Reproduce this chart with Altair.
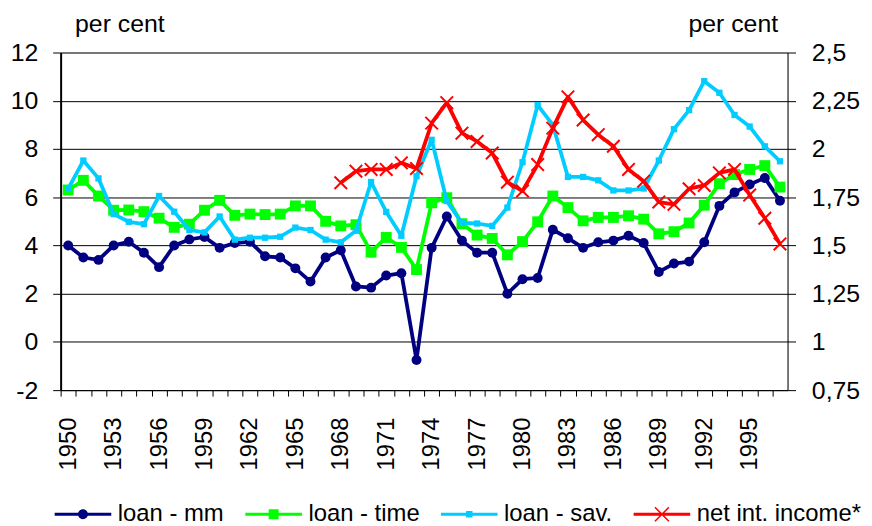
import altair as alt
import pandas as pd

years = list(range(1950, 1998))

loan_mm = [4.0, 3.5, 3.4, 4.0, 4.15, 3.7, 3.1, 4.0, 4.25, 4.35,
           3.9, 4.1, 4.15, 3.55, 3.5, 3.05, 2.5, 3.5, 3.8, 2.3,
           2.25, 2.75, 2.85, -0.75, 3.9, 5.2, 4.2, 3.7, 3.7, 2.0,
           2.6, 2.65, 4.65, 4.3, 3.9, 4.13, 4.2, 4.4, 4.1, 2.9,
           3.25, 3.33, 4.13, 5.64, 6.2, 6.53, 6.8, 5.85]

loan_time = [6.3, 6.7, 6.05, 5.46, 5.47, 5.4, 5.13, 4.75, 4.88, 5.46,
             5.87, 5.25, 5.3, 5.28, 5.3, 5.64, 5.64, 5.0, 4.81, 4.86,
             3.72, 4.33, 3.92, 3.0, 5.77, 5.98, 4.9, 4.43, 4.29, 3.61,
             4.16, 4.98, 6.05, 5.57, 5.02, 5.16, 5.16, 5.23, 5.09, 4.48,
             4.57, 4.93, 5.67, 6.56, 6.94, 7.15, 7.31, 6.42]

loan_sav = [6.35, 7.52, 6.78, 5.3, 4.98, 4.88, 6.05, 5.4, 4.64, 4.54,
            5.2, 4.24, 4.32, 4.32, 4.36, 4.74, 4.64, 4.24, 4.13, 4.61,
            6.63, 5.39, 4.4, 6.87, 8.38, 5.84, 4.93, 4.91, 4.81, 5.57,
            7.45, 9.82, 9.0, 6.84, 6.84, 6.7, 6.28, 6.28, 6.36, 7.52,
            8.82, 9.61, 10.81, 10.33, 9.41, 8.93, 8.11, 7.49]

net_years = list(range(1968, 1998))
net_income = [1.825, 1.885, 1.894, 1.894, 1.928, 1.899, 2.134, 2.24, 2.082, 2.039,
              1.979, 1.828, 1.782, 1.919, 2.108, 2.27, 2.15, 2.074, 2.014, 1.894,
              1.833, 1.725, 1.713, 1.794, 1.811, 1.876, 1.894, 1.761, 1.641, 1.508]

series_names = ["loan - mm", "loan - time", "loan - sav.", "net int. income*"]
series_colors = ["#000080", "#00FF00", "#00CCFF", "#FF0000"]

left_ticks = [-2, 0, 2, 4, 6, 8, 10, 12]
right_ticks = [0.75, 1.0, 1.25, 1.5, 1.75, 2.0, 2.25, 2.5]

FONT = "Liberation Sans"

# legend symbols: line with marker (unit = sqrt(size)/2)
LINE = "M-5.7,-0.3H5.7V0.3H-5.7Z "
legend_paths = [
    LINE + "M-1,0A1,1 0 1,1 1,0A1,1 0 1,1 -1,0Z",
    LINE + "M-1,-1H1V1H-1Z",
    LINE + "M-0.65,-0.65H0.65V0.65H-0.65Z",
    LINE + "M-1.506,-1.294L-1.294,-1.506L1.506,1.294L1.294,1.506Z "
           "M-1.294,1.506L-1.506,1.294L1.294,-1.506L1.506,-1.294Z",
]

df_mm = pd.DataFrame({"year": years, "value": loan_mm})
df_time = pd.DataFrame({"year": years, "value": loan_time})
df_sav = pd.DataFrame({"year": years, "value": loan_sav})
df_net = pd.DataFrame({"year": net_years, "value": net_income})
df_leg = pd.DataFrame({"series": series_names})

tick_vals = [y - 0.5 for y in years]

x_enc = alt.X(
    "year:Q",
    scale=alt.Scale(domain=[1949.5, 1997.5], nice=False, zero=False),
    axis=alt.Axis(
        values=tick_vals,
        labelExpr="(datum.value + 0.5 - 1950) % 3 == 0 ? '' + (datum.value + 0.5) : ''",
        labelOffset=7.625,
        labelAngle=-90,
        labelOverlap=False,
        labelFlush=False,
        labelBound=False,
        labelPadding=21,
        labelFont=FONT,
        labelFontSize=24,
        labelColor="black",
        tickSize=6,
        tickColor="black",
        domainColor="black",
        domainWidth=1,
        grid=False,
        title=None,
    ),
)

y_left = alt.Y(
    "value:Q",
    scale=alt.Scale(domain=[-2, 12], nice=False, zero=False),
    axis=alt.Axis(
        values=left_ticks,
        labelExpr="toString(datum.value)",
        grid=True,
        gridColor="black",
        gridWidth=1,
        gridOpacity=1,
        tickSize=8,
        tickColor="black",
        domainColor="black",
        domainWidth=2,
        labelFont=FONT,
        labelFontSize=25,
        labelColor="black",
        labelPadding=15,
        title="per cent",
        titleFont=FONT,
        titleFontSize=25,
        titleFontWeight="normal",
        titleColor="black",
        titleAngle=0,
        titleAlign="left",
        titleBaseline="alphabetic",
        titleX=14,
        titleY=-21,
    ),
)

y_right = alt.Y(
    "value:Q",
    scale=alt.Scale(domain=[0.75, 2.5], nice=False, zero=False),
    axis=alt.Axis(
        orient="right",
        values=right_ticks,
        labelExpr="replace(toString(datum.value), '.', ',')",
        grid=False,
        tickSize=8,
        tickColor="black",
        domainColor="black",
        domainWidth=1,
        labelFont=FONT,
        labelFontSize=25,
        labelColor="black",
        labelPadding=16,
        title="per cent",
        titleFont=FONT,
        titleFontSize=25,
        titleFontWeight="normal",
        titleColor="black",
        titleAngle=0,
        titleAlign="right",
        titleBaseline="alphabetic",
        titleX=-10,
        titleY=-21,
    ),
)


def series_layers(df, color, y_enc, point_kwargs):
    base = alt.Chart(df).encode(x=x_enc, y=y_enc)
    line = base.mark_line(color=color, strokeWidth=3.8, strokeJoin="round")
    pts = base.mark_point(color=color, opacity=1, **point_kwargs)
    return [line, pts]


layers_left = []
layers_left += series_layers(df_mm, series_colors[0], y_left,
                             dict(shape="circle", filled=True, size=100))
layers_left += series_layers(df_time, series_colors[1], y_left,
                             dict(shape="square", filled=True, size=120))
layers_left += series_layers(df_sav, series_colors[2], y_left,
                             dict(shape="square", filled=True, size=40))

legend_props = dict(
    orient="none",
    legendX=-13,
    legendY=453,
    direction="horizontal",
    columns=4,
    columnPadding=14,
    title=None,
    labelFont=FONT,
    labelFontSize=24,
    labelColor="black",
    labelLimit=400,
    symbolSize=100,
    symbolStrokeWidth=0,
    symbolOffset=23.5,
    labelOffset=23,
)

legend_layer = alt.Chart(df_leg).transform_filter("false").mark_point(
    filled=True, opacity=1
).encode(
    color=alt.Color(
        "series:N",
        scale=alt.Scale(domain=series_names, range=series_colors),
        legend=alt.Legend(**legend_props),
    ),
    shape=alt.Shape(
        "series:N",
        scale=alt.Scale(domain=series_names, range=legend_paths),
        legend=alt.Legend(**legend_props),
    ),
)

left = alt.layer(*layers_left, legend_layer)

right = alt.layer(*series_layers(
    df_net, series_colors[3], y_right,
    dict(shape="M-1,-1L1,1M-1,1L1,-1", filled=False, size=160, strokeWidth=2),
))

chart = alt.layer(left, right).resolve_scale(y="independent").properties(
    width=732,
    height=340,
    autosize=alt.AutoSizeParams(type="none"),
    padding={"left": 53, "top": 43, "right": 77, "bottom": 135},
).configure_view(stroke=None).configure(background="white")

chart.save("out.html", embed_options={"renderer": "svg", "actions": False})
